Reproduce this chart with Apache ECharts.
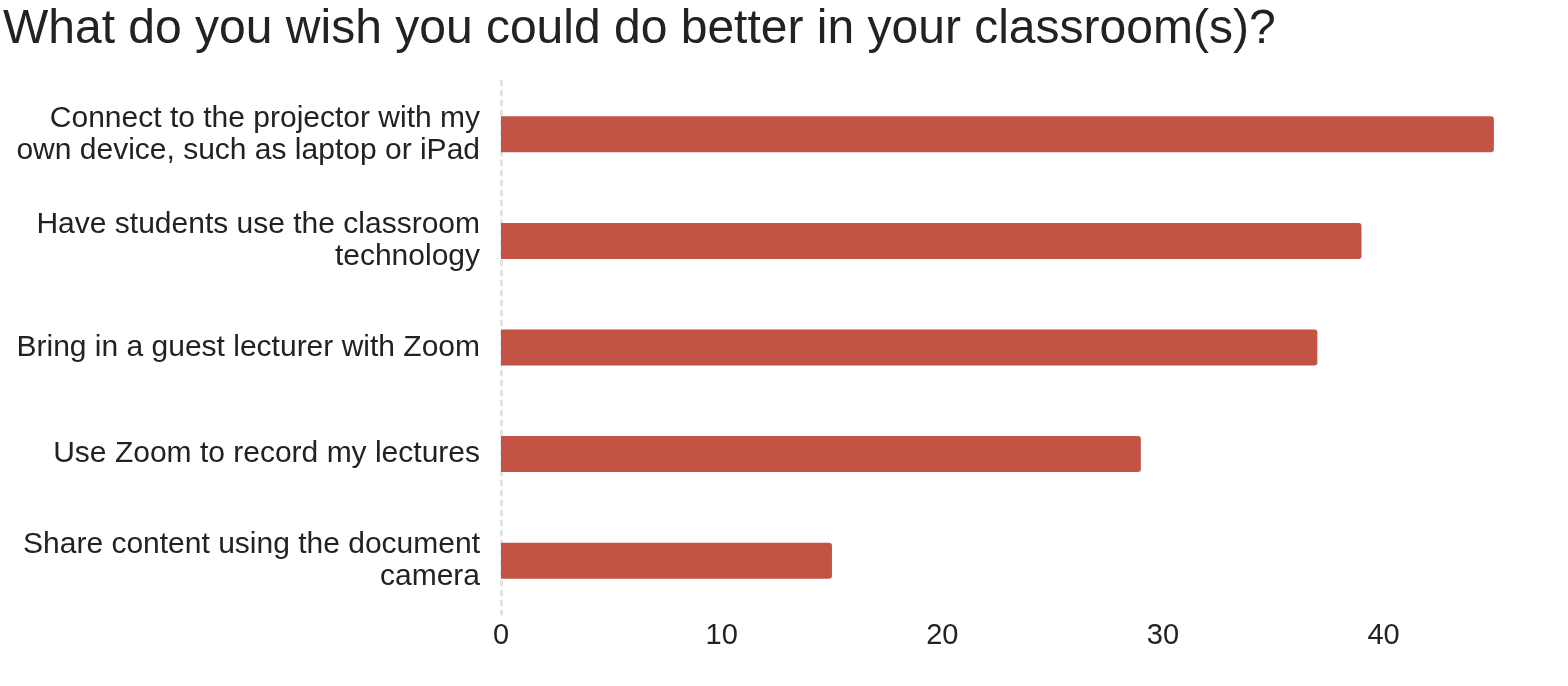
<!DOCTYPE html>
<html>
<head>
<meta charset="utf-8">
<script src="https://cdn.jsdelivr.net/npm/echarts@6/dist/echarts.min.js"></script>
<style>
html,body{margin:0;padding:0;background:#fff;}
#chart{width:1568px;height:686px;}
</style>
</head>
<body>
<div id="chart"></div>
<script>
const titleText = "What do you wish you could do better in your classroom(s)?";
const categories = [
  "Connect to the projector with my\nown device, such as laptop or iPad",
  "Have students use the classroom\ntechnology",
  "Bring in a guest lecturer with Zoom",
  "Use Zoom to record my lectures",
  "Share content using the document\ncamera"
];
const values = [45, 39, 37, 29, 15];
const xTicks = [0, 10, 20, 30, 40];

const chart = echarts.init(document.getElementById('chart'));
chart.setOption({
  animation: false,
  backgroundColor: '#fff',
  title: {
    text: titleText,
    left: -2,
    top: 1,
    textStyle: {
      fontFamily: 'Liberation Sans, Arial, sans-serif',
      fontSize: 48,
      fontWeight: 'normal',
      color: '#222'
    }
  },
  grid: {
    left: 501,
    right: 30,
    top: 81,
    height: 533,
    containLabel: false
  },
  xAxis: {
    type: 'value',
    min: 0,
    max: 47,
    interval: 10,
    axisLine: { show: false },
    axisTick: { show: false },
    splitLine: { show: false },
    axisLabel: {
      showMaxLabel: false,
      margin: 7,
      fontFamily: 'Liberation Sans, Arial, sans-serif',
      fontSize: 29,
      color: '#222',
      formatter: function (v) { return xTicks.indexOf(v) >= 0 ? String(v) : ''; }
    }
  },
  yAxis: {
    type: 'category',
    inverse: true,
    data: categories,
    axisTick: { show: false },
    axisLine: {
      show: true,
      lineStyle: { color: '#e2e2e2', width: 3, type: [4, 6] }
    },
    axisLabel: {
      margin: 21,
      fontFamily: 'Liberation Sans, Arial, sans-serif',
      fontSize: 30,
      lineHeight: 32,
      color: '#222',
      align: 'right',
      padding: [6, 0, 0, 0]
    }
  },
  series: [{
    type: 'bar',
    data: values,
    barWidth: 36,
    itemStyle: { color: '#c25345', borderRadius: [0, 3, 3, 0] }
  }]
});
</script>
</body>
</html>
